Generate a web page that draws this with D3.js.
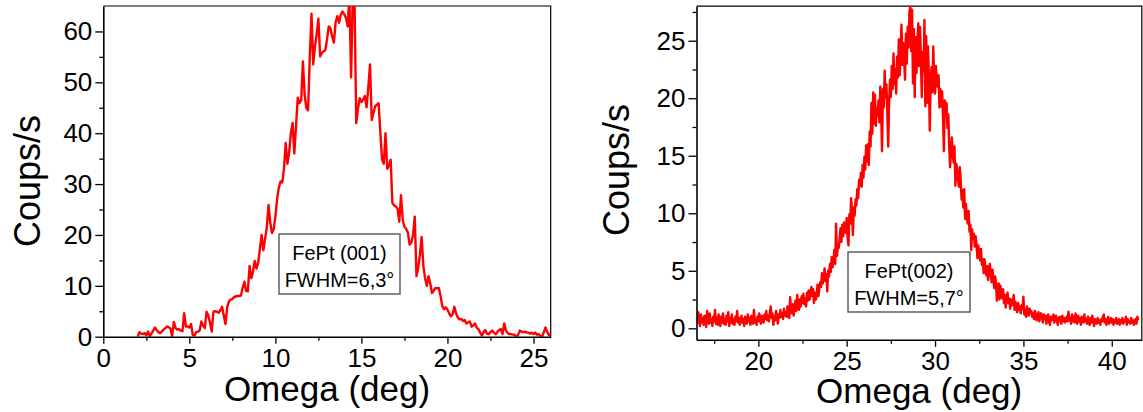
<!DOCTYPE html>
<html><head><meta charset="utf-8">
<script src="https://cdn.jsdelivr.net/npm/d3@7"></script>
<style>body{margin:0;background:#fff}svg{display:block}text{font-family:"Liberation Sans",Arial,sans-serif;fill:#000}</style>
</head><body>
<svg id="c" width="1143" height="412"></svg>
<script>
// ---------- data ----------
// FePt (001) rocking curve: omega from 2.0 to 26.0 deg, step 0.1
const omega001Start = 2.0, omega001Step = 0.1;
const counts001 = [
0,0.9,0.6,0.5,0.7,0.3,1.0,0.1,0.6,1.2,
1.8,1.3,0.9,0.7,1.0,1.4,1.7,2.0,1.9,1.6,
0.1,2.9,1.7,1.4,1.5,1.2,1.1,4.6,2.0,2.0,
1.8,2.5,0.3,0.2,0.9,1.0,1.2,3.0,2.2,1.7,
4.9,4.2,2.8,1.0,4.9,5.0,4.9,4.7,5.2,5.9,
4.2,2.5,5.8,6.9,7.3,7.4,7.8,7.9,8.0,8.0,
8.1,9.6,10.8,9.0,8.9,13.9,11.5,12.8,14.9,13.4,
14.5,17.2,20.0,17.0,19.2,21.4,25.9,22.5,20.4,21.1,
23.6,27.0,29.3,30.5,30.3,33.0,38.1,34.0,36.2,40.0,
42.0,36.0,41.5,47.0,45.9,46.5,54.1,47.6,45.0,44.5,
55.0,63.5,53.5,57.0,59.5,62.5,55.1,55.8,56.1,56.3,
58.4,61.0,60.6,59.0,57.8,61.8,63.0,61.7,63.3,63.9,
63.4,62.7,61.0,67.0,51.0,67.0,66.0,42.0,44.8,46.9,
46.1,46.6,47.3,45.1,49.0,53.5,42.6,44.0,45.3,45.6,
45.9,40.1,34.8,34.0,40.0,33.0,33.6,34.8,26.3,25.8,
25.6,25.2,22.6,27.8,23.0,21.6,21.2,20.5,18.1,18.5,
20.0,23.6,11.9,13.5,16.2,19.6,13.9,11.5,10.0,11.9,
10.5,8.6,9.0,9.6,9.5,9.6,8.0,6.0,5.4,5.8,
5.3,4.6,4.0,4.4,5.9,4.6,3.8,3.4,3.5,3.1,
3.3,2.6,2.8,3.0,2.0,2.2,2.6,1.8,1.5,0.8,
0.2,0.9,1.3,0.6,0.5,0.9,1.2,0.8,0.5,0.9,
1.3,1.5,0.5,2.6,1.2,0.7,0.5,0.5,0.4,0.4,
0.0,0.3,1.2,1.0,0.9,1.0,0.8,0.8,0.6,0.8,
0.5,0.8,0.4,0.5,0.1,0.0,0.9,1.8,0.9,0.3,
0.5];

// FePt (002) rocking curve: omega from 16.55 to 41.5 deg, step 0.05
const omega002Start = 16.55, omega002Step = 0.05;
const counts002 = [
0.4,1.4,0.6,0.2,1.2,0.5,0.9,0.3,1.1,0.6,0.1,1.5,0.7,0.4,1.3,0.5,0.8,0.2,1.0,0.6,
1.6,0.4,0.9,0.3,1.2,0.7,0.2,1.0,0.5,1.3,0.4,0.8,0.3,1.1,0.6,1.4,0.2,0.9,0.5,1.2,
0.4,0.8,0.3,1.0,0.6,1.5,0.5,0.9,0.3,0.7,1.1,0.5,0.8,0.2,1.0,0.7,0.4,1.2,0.6,0.9,
0.3,1.1,0.6,0.4,1.6,0.5,0.8,0.3,1.0,0.6,1.3,0.7,0.4,1.1,0.9,0.5,1.2,0.8,1.5,0.7,
1.1,0.6,1.4,1.9,0.9,1.3,0.3,1.0,0.7,1.5,1.1,0.4,1.2,0.9,1.6,1.0,1.3,0.8,1.7,1.1,
1.4,1.0,1.9,1.2,0.9,2.7,1.6,1.3,2.1,1.1,1.8,2.4,1.5,2.9,2.0,1.6,2.5,1.9,2.8,2.2,
3.0,2.1,2.6,1.9,3.1,2.4,3.3,2.5,2.9,3.6,2.8,3.4,2.2,3.1,2.5,2.9,3.8,2.8,3.4,4.0,
3.6,4.8,3.9,4.4,5.2,4.1,4.7,3.2,5.0,4.5,5.6,4.9,6.2,5.3,5.8,6.8,5.6,9.1,6.3,7.1,
7.0,7.8,8.7,7.5,9.0,8.0,9.2,9.0,8.3,9.6,7.9,7.2,9.9,9.1,11.3,10.2,8.1,10.5,9.8,11.2,
10.7,12.1,11.3,12.9,12.4,13.5,12.3,14.2,13.1,14.9,13.8,15.9,14.5,16.0,14.2,17.1,15.8,19.6,16.9,20.5,
17.8,20.3,17.6,19.1,18.5,19.8,17.9,21.0,19.0,15.4,20.8,19.2,22.4,20.1,21.2,18.6,15.8,19.7,21.6,20.1,
22.8,20.8,23.9,21.2,22.5,20.4,23.6,21.8,25.1,22.0,24.3,26.4,22.9,24.8,23.5,21.6,25.6,23.0,26.2,24.4,
27.5,28.0,24.1,27.7,21.3,26.0,20.1,25.3,22.2,24.8,26.5,22.8,26.2,23.4,20.1,24.0,22.4,26.8,19.3,25.4,
19.6,24.5,22.0,17.2,21.4,22.7,20.5,24.5,21.6,20.4,22.8,21.2,21.0,22.0,19.2,20.8,19.3,20.6,18.4,15.4,
19.8,18.5,19.6,17.4,18.6,15.8,14.0,15.4,16.6,15.1,14.4,15.8,12.4,14.3,13.8,12.9,12.3,14.0,13.0,11.2,
12.0,10.5,12.1,9.5,10.8,9.6,9.1,10.2,8.4,9.0,6.8,8.6,7.8,8.2,7.1,8.0,7.3,6.1,7.2,6.5,
5.9,6.9,5.5,6.0,4.8,6.0,5.2,4.6,5.4,4.2,4.9,5.6,4.7,4.0,5.1,4.3,3.5,4.5,3.9,2.4,
3.4,3.9,2.5,3.7,3.1,2.6,3.4,2.2,2.9,1.8,2.7,3.1,2.2,2.6,1.7,2.5,2.0,2.3,2.9,1.6,
2.3,1.8,1.4,2.2,1.6,1.9,1.3,2.0,1.7,2.75,1.2,1.6,1.0,1.9,1.4,1.1,1.7,1.3,1.5,1.0,
1.3,0.8,1.5,1.1,0.7,1.2,1.4,0.6,1.0,1.3,0.9,0.5,1.2,0.8,1.1,0.4,0.9,1.2,0.6,0.3,
1.0,0.7,0.9,1.2,0.5,0.8,1.1,0.6,0.3,0.9,1.0,0.7,0.4,1.1,0.6,0.9,0.5,0.8,1.0,0.6,
1.45,0.7,0.9,0.4,1.2,0.6,1.0,0.5,1.3,0.8,0.4,1.1,0.6,0.9,0.3,1.0,0.7,0.5,1.2,0.6,
0.8,0.4,1.0,0.6,0.3,0.9,0.5,1.1,0.7,0.2,0.8,0.6,0.4,0.9,0.5,0.7,0.3,0.8,0.6,1.0,
1.2,0.5,0.8,0.3,0.7,1.0,0.4,0.6,0.9,0.5,0.8,0.3,0.7,0.5,0.9,0.4,0.6,0.8,0.3,0.7,
0.5,0.9,0.4,0.7,0.6,1.0,0.3,0.8,0.5,0.6,0.4,0.9,0.5,0.7,0.3,0.6,0.8,0.4,1.0,0.7];

const xTicks001 = [0,5,10,15,20,25];
const yTicks001 = [0,10,20,30,40,50,60];
const xTicks002 = [20,25,30,35,40];
const yTicks002 = [0,5,10,15,20,25];
const xTitle = "Omega (deg)";
const yTitle = "Coups/s";
const box001 = ["FePt (001)", "FWHM=6,3\u00b0"];
const box002 = ["FePt(002)", "FWHM=5,7\u00b0"];

// ---------- drawing ----------
const svg = d3.select("#c");

function panel(o) {
  const g = svg.append("g");
  const x = d3.scaleLinear().domain(o.xDomain).range([o.left, o.right]);
  const y = d3.scaleLinear().domain(o.yDomain).range([o.bottom, o.top]);
  const pts = o.values.map((v, i) => [o.start + i * o.step, v]);

  const cid = "clip" + o.id;
  svg.append("clipPath").attr("id", cid).append("rect")
    .attr("x", o.left).attr("y", o.top).attr("width", o.right - o.left).attr("height", o.bottom - o.top);

  g.append("path").attr("d", `M${o.left},${o.top}H${o.right}V${o.bottom}`)
    .attr("fill", "none").attr("stroke", "#000").attr("stroke-width", 1.2);

  g.append("path").datum(pts).attr("clip-path", `url(#${cid})`)
    .attr("d", d3.line().x(d => x(d[0])).y(d => y(d[1])))
    .attr("fill", "none").attr("stroke", "#ff0000").attr("stroke-width", 2.4)
    .attr("stroke-linejoin", "round");

  const xAxisMinor = d3.axisBottom(x).tickValues(o.xMinor).tickSize(4).tickFormat("");
  const yAxisMinor = d3.axisLeft(y).tickValues(o.yMinor).tickSize(4).tickFormat("");
  g.append("g").attr("transform", `translate(0,${o.bottom})`).call(xAxisMinor)
    .call(s => s.select(".domain").remove()).selectAll("line").attr("stroke-width", 1.3);
  g.append("g").attr("transform", `translate(${o.left},0)`).call(yAxisMinor)
    .call(s => s.select(".domain").remove()).selectAll("line").attr("stroke-width", 1.3);

  const xa = g.append("g").attr("transform", `translate(0,${o.bottom})`)
    .call(d3.axisBottom(x).tickValues(o.xTicks).tickSize(7).tickSizeOuter(0).tickPadding(5));
  const ya = g.append("g").attr("transform", `translate(${o.left},0)`)
    .call(d3.axisLeft(y).tickValues(o.yTicks).tickSize(8).tickSizeOuter(0).tickPadding(3));
  [xa, ya].forEach(a => {
    a.select(".domain").attr("stroke-width", 1.6);
    a.selectAll(".tick line").attr("stroke-width", 1.3);
    a.selectAll("text").style("font-family", '"Liberation Sans", Arial, sans-serif')
      .style("font-size", "26px").attr("fill", "#000");
  });

  g.append("text").attr("x", (o.left + o.right) / 2).attr("y", o.xTitleY)
    .attr("text-anchor", "middle").style("font-size", "35px").text(xTitle);
  g.append("text").attr("transform", `translate(${o.yTitleX},${o.yTitleCY}) rotate(-90)`)
    .attr("text-anchor", "middle").style("font-size", "36px").text(yTitle);

  g.append("rect").attr("x", o.box[0]).attr("y", o.box[1]).attr("width", o.box[2]).attr("height", o.box[3])
    .attr("fill", "#fff").attr("stroke", "#555").attr("stroke-width", 1.4);
  o.boxText.forEach((t, i) => {
    g.append("text").attr("x", o.box[0] + o.box[2] / 2).attr("y", o.box[1] + 26 + i * 27)
      .attr("text-anchor", "middle").style("font-size", "20px").text(t);
  });
}

panel({
  id: "a", values: counts001, start: omega001Start, step: omega001Step,
  xDomain: [0, 26], yDomain: [0, 65],
  left: 103.3, right: 550.7, top: 6, bottom: 336.7,
  xTicks: xTicks001, yTicks: yTicks001,
  xMinor: [2.5, 7.5, 12.5, 17.5, 22.5], yMinor: [5, 15, 25, 35, 45, 55],
  xTitleY: 401, yTitleX: 40, yTitleCY: 181,
  box: [279, 234, 121, 60], boxText: box001
});

panel({
  id: "b", values: counts002, start: omega002Start, step: omega002Step,
  xDomain: [16.5, 41.7], yDomain: [-1, 28],
  left: 696.5, right: 1141.8, top: 6.2, bottom: 339.8,
  xTicks: xTicks002, yTicks: yTicks002,
  xMinor: [17.5, 22.5, 27.5, 32.5, 37.5], yMinor: [2.5, 7.5, 12.5, 17.5, 22.5, 27.5],
  xTitleY: 403, yTitleX: 629, yTitleCY: 170,
  box: [848, 252, 122, 60], boxText: box002
});
</script>
</body></html>
